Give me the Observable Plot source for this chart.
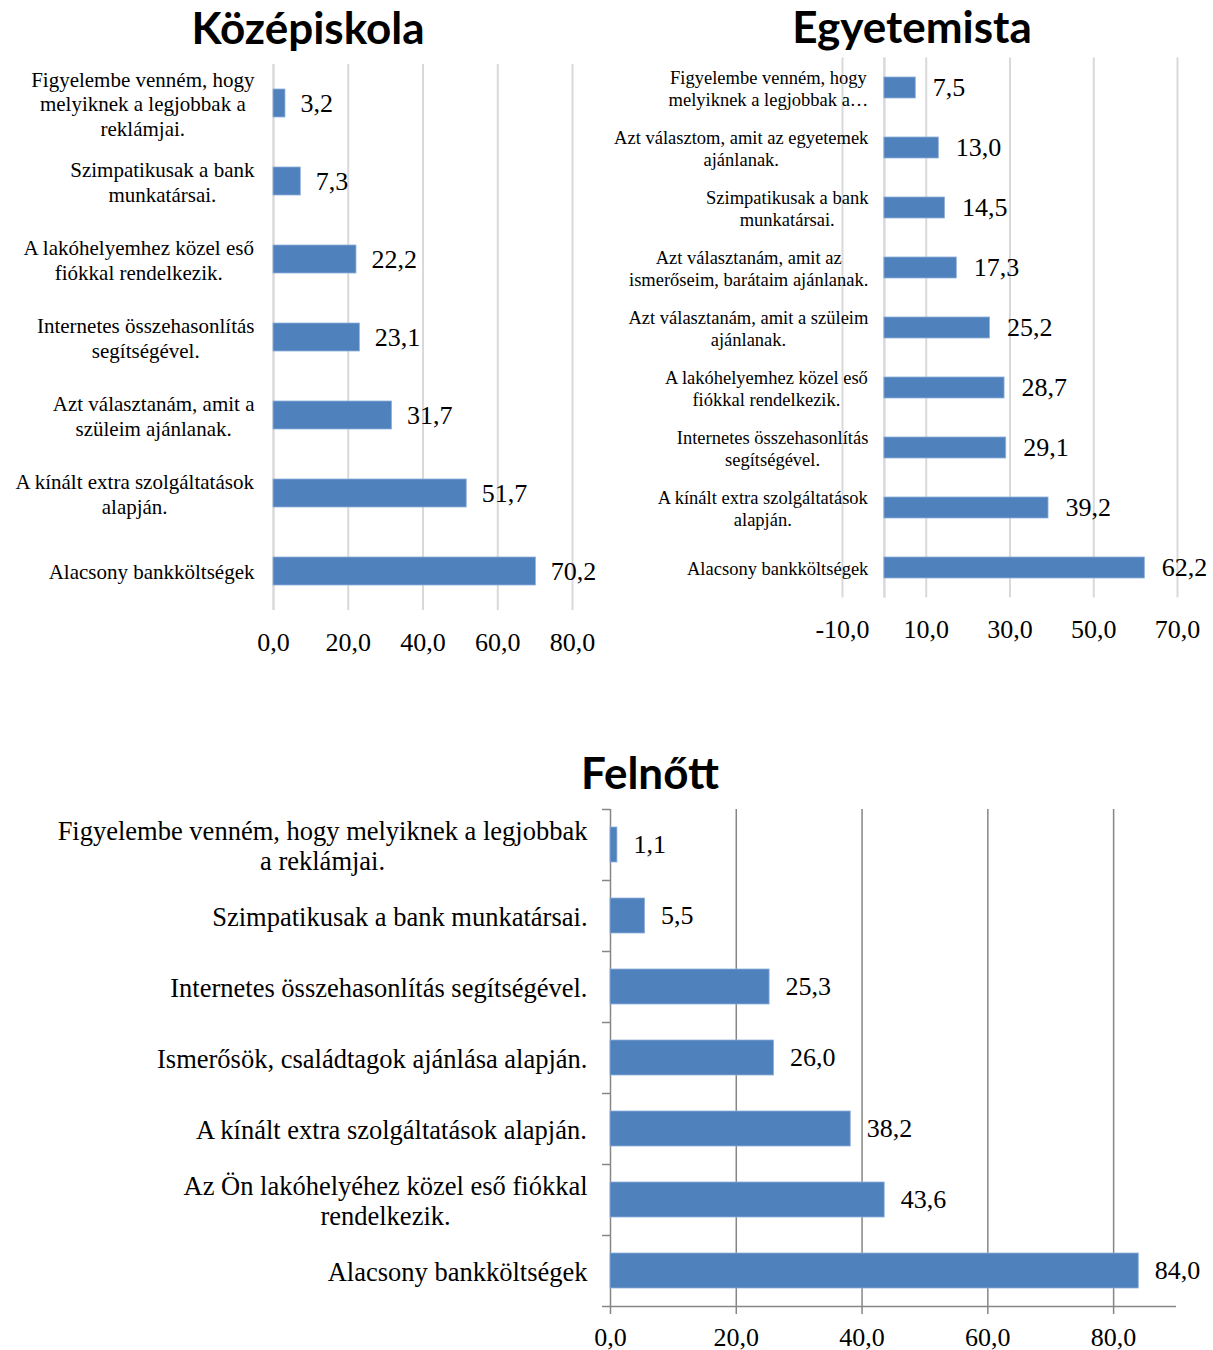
<!DOCTYPE html>
<html><head><meta charset="utf-8">
<script src="https://cdn.jsdelivr.net/npm/d3@7"></script>
<script src="https://cdn.jsdelivr.net/npm/@observablehq/plot@0.6"></script>
<style>
body{margin:0;background:#fff;}
#wrap{position:relative;width:1213px;height:1350px;overflow:hidden;background:#fff;}
.title{position:absolute;width:400px;text-align:center;font-family:Lato,"Open Sans",sans-serif;font-weight:700;font-size:44px;line-height:1;color:#000;white-space:nowrap;}
.chart{position:absolute;}
.chart svg{overflow:visible;}
</style></head><body>
<div id="wrap">
  <div class="title" style="left:108px;top:5px">Középiskola</div>
  <div class="title" style="left:712px;top:4px">Egyetemista</div>
  <div class="title" style="left:450px;top:750px">Felnőtt</div>
  <div class="chart" id="c1" style="left:0px;top:0px"></div>
  <div class="chart" id="c2" style="left:600px;top:0px"></div>
  <div class="chart" id="c3" style="left:0px;top:790px"></div>
</div>
<script>
// ---- Data ----
const kozepCategories = [
  "Figyelembe venném, hogy\nmelyiknek a legjobbak a\nreklámjai.",
  "Szimpatikusak a bank\nmunkatársai.",
  "A lakóhelyemhez közel eső\nfiókkal rendelkezik.",
  "Internetes összehasonlítás\nsegítségével.",
  "Azt választanám, amit a\nszüleim ajánlanak.",
  "A kínált extra szolgáltatások\nalapján.",
  "Alacsony bankköltségek"
];
const kozepValues = [3.2, 7.3, 22.2, 23.1, 31.7, 51.7, 70.2];
const kozepTicks = [0, 20, 40, 60, 80];

const egyetemCategories = [
  "Figyelembe venném, hogy\nmelyiknek a legjobbak a…",
  "Azt választom, amit az egyetemek\najánlanak.",
  "Szimpatikusak a bank\nmunkatársai.",
  "Azt választanám, amit az\nismerőseim, barátaim ajánlanak.",
  "Azt választanám, amit a szüleim\najánlanak.",
  "A lakóhelyemhez közel eső\nfiókkal rendelkezik.",
  "Internetes összehasonlítás\nsegítségével.",
  "A kínált extra szolgáltatások\nalapján.",
  "Alacsony bankköltségek"
];
const egyetemValues = [7.5, 13.0, 14.5, 17.3, 25.2, 28.7, 29.1, 39.2, 62.2];
const egyetemTicks = [-10, 10, 30, 50, 70];
const egyetemGrid = [-10, 0, 10, 30, 50, 70];

const felnottCategories = [
  "Figyelembe venném, hogy melyiknek a legjobbak\na reklámjai.",
  "Szimpatikusak a bank munkatársai.",
  "Internetes összehasonlítás segítségével.",
  "Ismerősök, családtagok ajánlása alapján.",
  "A kínált extra szolgáltatások alapján.",
  "Az Ön lakóhelyéhez közel eső fiókkal\nrendelkezik.",
  "Alacsony bankköltségek"
];
const felnottValues = [1.1, 5.5, 25.3, 26.0, 38.2, 43.6, 84.0];
const felnottTicks = [0, 20, 40, 60, 80];
const felnottGrid = [20, 40, 60, 80];

// ---- Helpers ----
const serif = '"Liberation Serif", "Times New Roman", serif';
const loc = d3.formatLocale({decimal: ",", thousands: " ", grouping: [3], currency: ["", ""], minus: "-"});
const fmt = loc.format(".1f");
const ctx = document.createElement("canvas").getContext("2d");
function blockWidth(s, size) {
  ctx.font = `${size}px "Liberation Serif"`;
  return Math.max(...s.split("\n").map(l => ctx.measureText(l).width));
}
const barColor = "#4F81BD";

function chart(o) {
  const rows = o.cats.map((c, i) => ({cat: c, value: o.values[i], zero: 0}));
  const step = (o.height - o.marginTop - o.marginBottom) / o.cats.length;
  const marks = [];
  marks.push(Plot.gridX(o.grid, {stroke: o.gridColor, strokeOpacity: 1, strokeWidth: o.gridWidth}));
  marks.push(Plot.ruleX([0], {stroke: o.gridColor, strokeWidth: o.gridWidth}));
  if (o.axisLine) {
    marks.push(Plot.ruleY(o.cats, {y: d => d, x1: 0, x2: 0, insetLeft: -8, dy: -step / 2, stroke: o.gridColor, strokeWidth: o.gridWidth}));
    marks.push(Plot.ruleY(o.cats.slice(-1), {y: d => d, x1: 0, x2: o.domain[1], insetLeft: -8, dy: step / 2, stroke: o.gridColor, strokeWidth: o.gridWidth}));
  }
  marks.push(Plot.barX(rows, {x: "value", y: "cat", fill: barColor, stroke: "#8fb0d9", strokeWidth: 0.8}));
  marks.push(Plot.text(rows, {x: "value", y: "cat", text: d => fmt(d.value), textAnchor: "start", dx: o.valueDx, fontSize: 26, fill: "#000"}));
  rows.forEach(r => {
    const w = blockWidth(r.cat, o.labelSize);
    marks.push(Plot.text([r], {x: "zero", y: "cat", text: "cat", textAnchor: "middle",
      dx: -(o.labelGap + w / 2), fontSize: o.labelSize, lineHeight: o.lineHeight, fill: "#000"}));
  });
  marks.push(Plot.axisX(o.ticks, {tickFormat: fmt, tickSize: o.tickSize, tickPadding: o.tickPadding, label: null,
    stroke: o.gridColor, strokeWidth: o.gridWidth, fill: "#000", fontSize: 26}));
  return Plot.plot({
    width: o.width, height: o.height,
    marginLeft: o.marginLeft, marginRight: o.marginRight, marginTop: o.marginTop, marginBottom: o.marginBottom,
    style: {fontFamily: serif, fontSize: "26px", color: "#000", background: "transparent"},
    x: {domain: o.domain, axis: null, label: null},
    y: {domain: o.cats, paddingInner: o.pad, paddingOuter: o.pad / 2, axis: null, label: null},
    marks
  });
}

document.getElementById("c1").append(chart({
  cats: kozepCategories, values: kozepValues, domain: [0, 80], ticks: kozepTicks, grid: kozepTicks,
  width: 600, height: 670, marginLeft: 273, marginRight: 28, marginTop: 64, marginBottom: 60,
  pad: 0.647, labelSize: 21, lineHeight: 1.17, labelGap: 19, valueDx: 15,
  gridColor: "#d9d9d9", gridWidth: 2, tickSize: 0, tickPadding: 22, axisLine: false
}));
document.getElementById("c2").append(chart({
  cats: egyetemCategories, values: egyetemValues, domain: [-10, 70], ticks: egyetemTicks, grid: egyetemGrid,
  width: 613, height: 670, marginLeft: 242, marginRight: 36, marginTop: 57.5, marginBottom: 72.5,
  pad: 0.65, labelSize: 18.5, lineHeight: 1.17, labelGap: 16, valueDx: 17,
  gridColor: "#d9d9d9", gridWidth: 2, tickSize: 0, tickPadding: 22, axisLine: false
}));
document.getElementById("c3").append(chart({
  cats: felnottCategories, values: felnottValues, domain: [0, 90], ticks: felnottTicks, grid: felnottGrid,
  width: 1213, height: 560, marginLeft: 610, marginRight: 37, marginTop: 19, marginBottom: 44,
  pad: 0.507, labelSize: 26.5, lineHeight: 1.13, labelGap: 23, valueDx: 16,
  gridColor: "#868686", gridWidth: 1.5, tickSize: 8, tickPadding: 13, axisLine: true
}));
</script>
</body></html>
